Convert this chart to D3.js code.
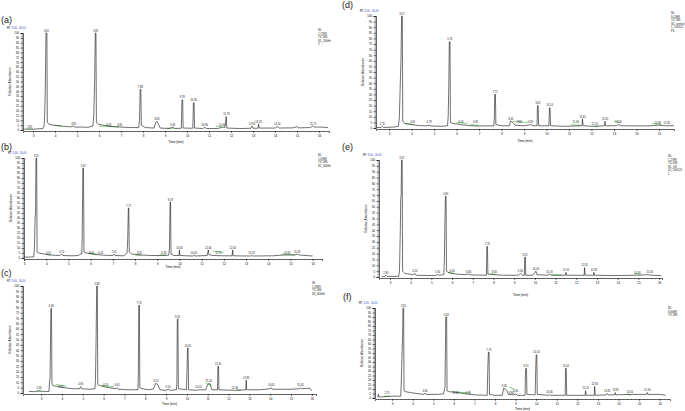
<!DOCTYPE html>
<html lang="en">
<head>
<meta charset="UTF-8">
<script src="https://cdn.jsdelivr.net/npm/d3@7"></script>
<title>Chromatograms</title>
<style>
  body { margin: 0; background: #fff; overflow: hidden; font-family: Arial, "Liberation Sans", sans-serif; }
  .tick text { font-family: Arial, "Liberation Sans", sans-serif; }
</style>
</head>
<body>
<script>
// tick labels
const timeTicks = [3, 4, 5, 6, 7, 8, 9, 10, 11, 12, 13, 14, 15, 16];
const abundTicks = [0, 5, 10, 15, 20, 25, 30, 35, 40, 45, 50, 55, 60, 65, 70, 75, 80, 85, 90, 95, 100];

// traces: [time (min), relative abundance]
const traceA = [[2.55,0.8],[2.8,1],[3.0,0.8],[3.2,1.2],[3.45,1.5],[3.5,4],[3.53,15],[3.56,45],[3.59,100],[3.63,100],[3.65,8],[3.72,6],[3.9,5],[4.1,4.5],[4.4,3.8],[4.7,3.2],[4.85,4],[4.9,3],[5.2,3],[5.5,2.8],[5.72,4],[5.76,15],[5.8,50],[5.83,100],[5.86,100],[5.88,8],[5.98,6],[6.3,4.5],[6.6,3.5],[7.0,3],[7.4,2.5],[7.8,2.5],[7.84,10],[7.87,42],[7.9,42],[7.92,5],[8.1,2.5],[8.5,2],[8.58,8],[8.63,9],[8.7,6],[8.78,2],[9.2,1.5],[9.35,3],[9.45,1.5],[9.74,1.8],[9.77,31],[9.8,31],[9.82,2],[10.26,1.8],[10.29,28],[10.32,28],[10.34,2],[10.7,1.5],[10.8,2.5],[10.9,1.5],[11.4,1.5],[11.6,3],[11.72,2.5],[11.78,14],[11.81,2],[12.4,1.5],[12.9,1.8],[12.95,4],[13.0,1.8],[13.22,1.8],[13.25,6],[13.28,2],[14.0,2],[14.1,3.5],[14.2,2],[14.8,2.2],[15.0,3.5],[15.05,2.2],[15.6,2.5],[15.7,4],[15.8,3],[16.1,3],[16.4,2.5]];
const traceB = [[3.0,0.8],[3.3,1],[3.44,1.2],[3.47,10],[3.5,40],[3.52,45],[3.54,100],[3.57,100],[3.59,6],[3.66,5],[3.9,4],[4.2,3],[4.6,2.5],[4.7,4],[4.75,2.5],[5.2,2.2],[5.45,2.5],[5.55,4],[5.6,4],[5.62,20],[5.65,90],[5.68,90],[5.7,6],[5.8,5],[6.2,3.5],[6.6,2.8],[7.0,2.5],[7.05,4],[7.1,2.5],[7.5,2.2],[7.64,5],[7.67,18],[7.7,50],[7.72,50],[7.74,6],[7.85,4],[8.3,3],[8.7,2.5],[9.2,2.5],[9.52,2.8],[9.55,10],[9.58,56],[9.6,56],[9.62,4],[9.75,2.5],[9.98,2.5],[10.0,8],[10.02,2.5],[10.6,2],[10.65,3],[10.7,2],[11.25,2.5],[11.3,8],[11.33,3.5],[11.5,2.5],[12.0,2.2],[12.37,2.2],[12.4,8],[12.42,2.2],[13.2,2],[13.25,3],[13.3,2],[14.2,2.2],[14.7,3],[15.2,3],[15.3,4],[15.4,3],[15.7,2.5],[16.0,2]];
const traceC = [[2.42,1.5],[2.7,1.2],[2.9,2],[3.1,1.5],[3.38,1.5],[3.41,12],[3.43,13],[3.45,50],[3.47,79],[3.5,79],[3.52,8],[3.58,7],[3.8,6],[4.1,5],[4.5,4],[4.85,4],[4.9,6],[4.95,4],[5.3,3.5],[5.58,4],[5.61,12],[5.64,50],[5.67,100],[5.7,100],[5.72,8],[5.8,7],[6.1,5.5],[6.4,4.5],[6.6,4],[6.65,5],[6.7,3.5],[7.2,3],[7.65,3],[7.67,18],[7.69,82],[7.72,82],[7.74,5],[7.85,4],[8.2,3],[8.4,4],[8.5,9],[8.6,8],[8.7,3],[9.0,2.5],[9.1,3.5],[9.2,2.5],[9.5,3],[9.52,10],[9.54,69],[9.57,69],[9.59,4],[9.98,3],[10.01,23],[10.03,42],[10.06,42],[10.08,3],[10.5,2.5],[10.55,3],[10.9,3],[11.0,8],[11.1,9],[11.2,3],[11.47,3],[11.49,25],[11.52,25],[11.54,3],[12.3,2.5],[12.83,3],[12.85,12],[12.87,3],[13.5,3],[14.0,4],[14.05,5],[14.1,3.5],[15.0,3.5],[15.4,4],[15.45,5],[15.5,4],[15.9,4.5],[16.0,2]];
const traceD = [[2.45,0.5],[2.65,0.5],[2.7,1.5],[2.75,0.5],[3.2,0.8],[3.42,1.5],[3.46,10],[3.5,40],[3.53,60],[3.56,100],[3.59,100],[3.61,6],[3.7,4],[4.0,3],[4.4,2],[4.75,2],[4.78,3],[4.82,1.8],[5.3,1.5],[5.6,2],[5.63,10],[5.66,41],[5.68,77],[5.71,77],[5.73,5],[5.85,4],[6.2,3],[6.6,2],[7.0,1.8],[7.66,2],[7.68,8],[7.7,30],[7.73,30],[7.75,3],[8.0,2],[8.35,2],[8.4,6],[8.5,5],[8.6,2.5],[9.0,2],[9.3,3],[9.4,2],[9.58,2],[9.6,20],[9.63,20],[9.65,2],[10.11,2],[10.13,18],[10.16,18],[10.18,2],[10.8,1.5],[11.58,2],[11.6,8],[11.63,2],[12.1,1.5],[12.58,2],[12.6,6],[12.63,2],[13.1,2],[13.2,3],[13.3,2],[14.5,1.8],[15.0,2.5],[15.3,2],[15.67,2]];
const traceE = [[2.6,0.5],[2.75,0.5],[2.8,1.5],[2.85,0.5],[3.42,0.5],[3.46,5],[3.5,40],[3.52,66],[3.54,70],[3.56,100],[3.59,100],[3.61,5],[3.72,3],[4.1,2],[4.2,3],[4.25,1.5],[5.0,1.2],[5.25,1.5],[5.3,2.5],[5.35,1.5],[5.6,2],[5.63,15],[5.65,44],[5.68,69],[5.71,69],[5.73,5],[5.85,3.5],[6.2,2.5],[6.6,2],[6.8,2.5],[6.9,1.8],[7.66,1.5],[7.68,26],[7.71,26],[7.73,2.5],[8.0,2],[8.5,1.5],[9.2,1.5],[9.3,3],[9.4,1.5],[9.49,1.5],[9.51,17],[9.54,17],[9.56,1.5],[9.9,1.5],[10.05,5],[10.1,2],[10.6,1.5],[10.7,2.5],[10.8,1.5],[11.47,1.5],[11.5,4],[11.53,1.5],[12.38,1.5],[12.4,8],[12.43,1.5],[12.83,1.5],[12.85,4],[12.88,1.5],[13.8,1.2],[14.9,1.5],[15.5,2],[15.6,1.5],[16.1,1.2]];
const traceF = [[2.3,1],[2.33,4],[2.36,1],[2.6,1.5],[2.9,2],[3.2,2],[3.42,2],[3.45,20],[3.48,45],[3.51,67],[3.53,100],[3.56,100],[3.58,8],[3.66,7],[3.9,6],[4.2,5],[4.55,4],[4.6,5.5],[4.65,4],[5.2,4],[5.5,4.5],[5.57,12],[5.61,90],[5.65,90],[5.67,8],[5.78,7],[6.2,6],[6.6,4.5],[7.0,3.5],[7.62,3],[7.65,33],[7.68,51],[7.71,51],[7.73,4],[8.0,3],[8.35,3],[8.42,11],[8.5,10],[8.58,8],[8.65,4],[8.9,3.5],[9.0,4.5],[9.1,3],[9.46,3],[9.48,30],[9.5,33],[9.53,33],[9.55,4],[9.95,3.5],[9.98,33],[10.0,48],[10.03,48],[10.05,4],[10.6,3],[10.65,4],[10.7,3],[11.41,3],[11.43,33],[11.46,33],[11.48,3],[12.38,3],[12.4,8],[12.43,3],[12.82,3],[12.84,13],[12.87,3],[13.4,3.5],[13.45,5],[13.5,3.5],[13.82,3.5],[13.84,6],[13.87,3.5],[14.5,4],[15.37,4],[15.4,6],[15.43,4],[16.0,4],[16.3,3]];

// labelled retention times
const peaksA = [2.85, 3.61, 4.85, 5.85, 6.45, 6.95, 7.88, 8.63, 9.35, 9.78, 10.30, 10.80, 11.60, 11.79, 12.95, 13.25, 14.10, 15.72];
const peaksB = [3.55, 4.10, 4.70, 5.67, 6.05, 6.45, 7.05, 7.71, 8.20, 9.30, 9.59, 10.00, 10.65, 11.30, 11.75, 12.40, 13.25, 14.85, 15.30];
const peaksC = [2.90, 3.48, 3.95, 4.90, 5.68, 6.10, 6.65, 7.70, 8.52, 9.10, 9.55, 10.05, 10.55, 11.05, 11.50, 12.30, 12.85, 14.05, 15.45];
const peaksD = [2.70, 3.57, 4.05, 4.78, 5.70, 6.20, 6.85, 7.72, 8.42, 8.80, 9.30, 9.62, 10.14, 11.30, 11.61, 12.15, 12.61, 13.20, 14.95, 15.35];
const peaksE = [2.80, 3.57, 4.20, 5.30, 5.69, 6.00, 6.80, 7.70, 8.05, 9.30, 9.52, 10.05, 10.70, 11.50, 12.41, 12.85, 14.95, 15.55];
const peaksF = [2.75, 3.55, 4.60, 5.63, 6.10, 6.70, 7.70, 8.45, 8.80, 9.00, 9.51, 10.02, 10.65, 11.44, 12.41, 12.84, 13.45, 13.85, 14.55, 15.40];

// integration baselines: [start, end, level]
const greenA = [[2.7,3.0,1],[4.0,4.3,5],[6.0,6.9,4],[9.1,9.4,2],[11.3,11.6,4]];
const greenB = [[4.0,4.2,3.5],[5.9,6.3,5],[8.0,8.3,3],[9.1,9.4,3.5],[11.5,12.0,7],[14.6,15.2,4]];
const greenC = [[2.8,3.0,2],[3.7,4.2,8],[5.9,6.5,7],[10.9,11.2,9],[12.4,12.6,3]];
const greenD = [[3.7,4.1,4],[6.0,6.5,5],[6.6,7.0,3],[8.5,9.2,6],[11.1,11.5,3],[12.1,12.3,1.5],[13.0,13.3,6],[14.7,15.1,4]];
const greenE = [[5.8,6.1,4],[7.85,8.1,3],[10.8,11.3,2],[14.8,15.1,3]];
const greenF = [[2.6,2.9,2],[5.9,6.8,7],[8.7,8.95,12],[14.4,14.6,4]];

const infoA = ["NL:", "1.72E9", "TIC MS", "S1_20kHz", "3"];
const infoB = ["NL:", "1.05E9", "TIC MS", "S2_40kHz"];
const infoC = ["NL:", "1.38E9", "TIC MS", "S3_60kHz"];
const infoD = ["NL:", "9.14E8", "TIC MS", "S4_control", "1_100521", "F4"];
const infoE = ["NL:", "1.27E9", "TIC MS", "S5_US", "20_100521", "1"];
const infoF = ["NL:", "8.66E8", "TIC MS"];

const panels = [
  {name: "(a)", trace: traceA, peaks: peaksA, green: greenA, info: infoA,
   lx: 1, ly: 23, left: 23, right: 329, top: 33, bottom: 130, t0: 2.545, t1: 16.45, tl: 143, ix: 318, iy: 31},
  {name: "(b)", trace: traceB, peaks: peaksB, green: greenB, info: infoB,
   lx: 1, ly: 150, left: 24, right: 322, top: 158, bottom: 258, t0: 3.0, t1: 16.42, tl: 268, ix: 318, iy: 156},
  {name: "(c)", trace: traceC, peaks: peaksC, green: greenC, info: infoC,
   lx: 1, ly: 276, left: 23, right: 316, top: 286, bottom: 393, t0: 2.13, t1: 16.2, tl: 405, ix: 312, iy: 284},
  {name: "(d)", trace: traceD, peaks: peaksD, green: greenD, info: infoD,
   lx: 342, ly: 8, left: 376, right: 674, top: 16, bottom: 128, t0: 2.42, t1: 15.67, tl: 142, ix: 671, iy: 14},
  {name: "(e)", trace: traceE, peaks: peaksE, green: greenE, info: infoE,
   lx: 342, ly: 150, left: 379, right: 662, top: 160, bottom: 277, t0: 2.47, t1: 16.14, tl: 296, ix: 668, iy: 157},
  {name: "(f)", trace: traceF, peaks: peaksF, green: greenF, info: infoF,
   lx: 343, ly: 300, left: 375, right: 670, top: 308, bottom: 398, t0: 2.17, t1: 16.5, tl: 410, ix: 668, iy: 309}
];

const svg = d3.select("body").append("svg")
  .attr("width", 685)
  .attr("height", 411);

panels.forEach(p => {
  const x = d3.scaleLinear().domain([p.t0, p.t1]).range([p.left, p.right]);
  const y = d3.scaleLinear().domain([0, 100]).range([p.bottom, p.top]);
  const g = svg.append("g");

  // panel letter
  g.append("text")
    .attr("x", p.lx).attr("y", p.ly)
    .attr("font-size", 9).attr("fill", "#222")
    .text(p.name);

  // RT range header
  const hdr = g.append("text")
    .attr("x", p.left - 16).attr("y", p.top - 4)
    .attr("font-size", 2.6).attr("fill", "#000");
  hdr.append("tspan").text("RT: ");
  hdr.append("tspan").attr("fill", "#2a3fc0").text("3.00 - 16.00");

  // y axis: minor then major
  g.append("g")
    .attr("transform", `translate(${p.left},0)`)
    .call(d3.axisLeft(y).ticks(100).tickSize(1.5).tickFormat(""))
    .call(a => a.select(".domain").remove())
    .selectAll("line").attr("stroke", "#555").attr("stroke-width", 0.5);
  g.append("g")
    .attr("transform", `translate(${p.left},0)`)
    .call(d3.axisLeft(y).tickValues(abundTicks).tickSize(2.5).tickPadding(1.5))
    .call(a => a.select(".domain").attr("stroke-width", 0.6))
    .call(a => a.selectAll("line").attr("stroke-width", 0.5))
    .call(a => a.selectAll("text").attr("font-size", 2.8));

  // x axis
  g.append("g")
    .attr("transform", `translate(0,${p.bottom + 1})`)
    .call(d3.axisBottom(x).ticks(70).tickSize(1).tickFormat(""))
    .call(a => a.select(".domain").remove())
    .selectAll("line").attr("stroke", "#555").attr("stroke-width", 0.4);
  g.append("g")
    .attr("transform", `translate(0,${p.bottom + 1})`)
    .call(d3.axisBottom(x).tickValues(timeTicks.filter(t => t >= p.t0 && t <= p.t1)).tickSize(2).tickPadding(1.5))
    .call(a => a.select(".domain").attr("stroke-width", 0.6))
    .call(a => a.selectAll("line").attr("stroke-width", 0.5))
    .call(a => a.selectAll("text").attr("font-size", 3));

  // axis titles
  g.append("text")
    .attr("x", (p.left + p.right) / 2).attr("y", p.tl)
    .attr("text-anchor", "middle").attr("font-size", 3.2)
    .text("Time (min)");
  g.append("text")
    .attr("transform", `translate(${p.left - 12},${(p.top + p.bottom) / 2}) rotate(-90)`)
    .attr("text-anchor", "middle").attr("font-size", 3.2)
    .text("Relative Abundance");

  // green integration baselines
  g.selectAll(".gr").data(p.green).enter().append("line")
    .attr("x1", d => x(d[0])).attr("x2", d => x(d[1]))
    .attr("y1", d => y(d[2])).attr("y2", d => y(d[2] * 0.8))
    .attr("stroke", "#35b035").attr("stroke-width", 0.6);

  // trace
  g.append("path")
    .datum(p.trace)
    .attr("fill", "none")
    .attr("stroke", "#111")
    .attr("stroke-width", 0.6)
    .attr("stroke-linejoin", "round")
    .attr("d", d3.line().x(d => x(d[0])).y(d => y(d[1])));

  // peak labels, placed above the local maximum of the trace
  g.selectAll(".pk").data(p.peaks).enter().append("text")
    .attr("x", d => x(d))
    .attr("y", d => {
      const near = p.trace.filter(q => Math.abs(q[0] - d) < 0.07);
      const m = near.length ? d3.max(near, q => q[1]) : 3;
      return y(m) - 1.5;
    })
    .attr("text-anchor", "middle").attr("font-size", 2.6).attr("fill", "#111")
    .text(d => d.toFixed(2));

  // info block
  g.selectAll(".inf").data(p.info).enter().append("text")
    .attr("x", p.ix).attr("y", (d, i) => p.iy + i * 3.6)
    .attr("font-size", 2.8).attr("fill", "#222")
    .text(d => d);
});
</script>
</body>
</html>
